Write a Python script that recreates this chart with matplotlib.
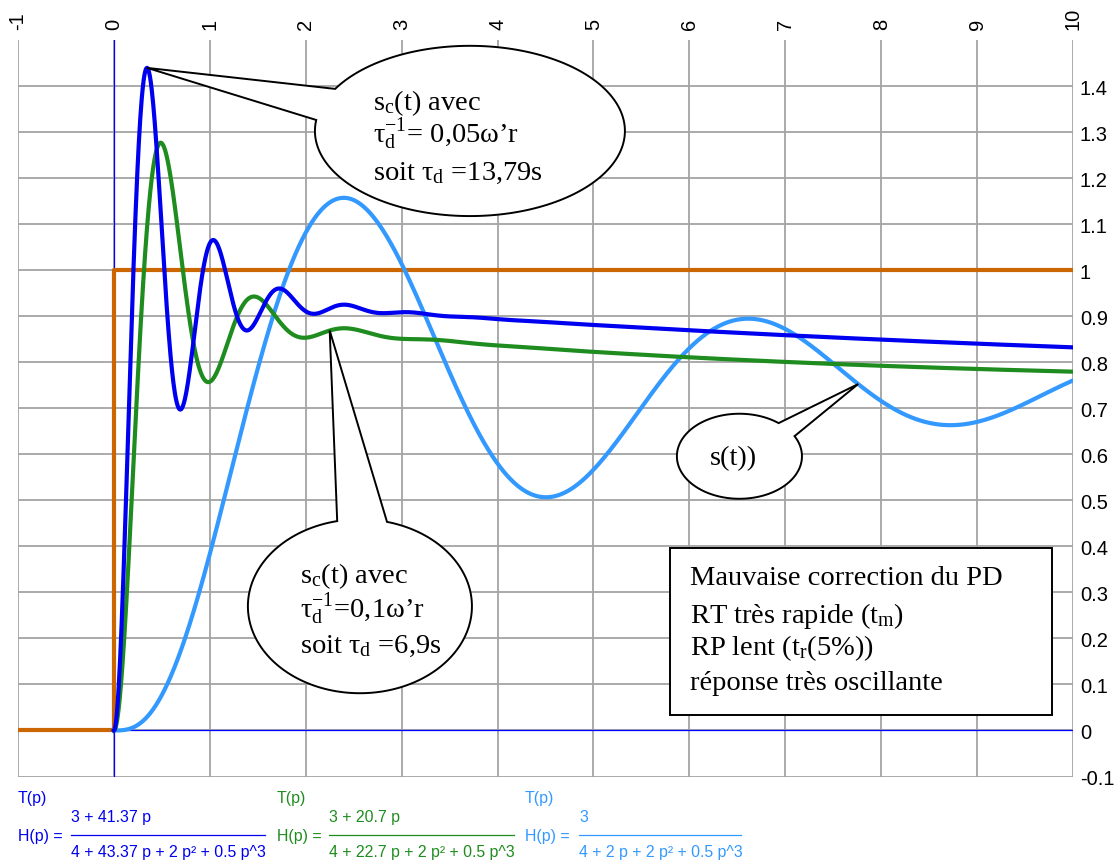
import numpy as np
import matplotlib
matplotlib.use("Agg")
import matplotlib.pyplot as plt
from matplotlib.patches import Polygon, Rectangle
from matplotlib.lines import Line2D

plt.rcParams['mathtext.fontset'] = 'custom'
plt.rcParams['mathtext.rm'] = 'Liberation Serif'
plt.rcParams['mathtext.it'] = 'Liberation Serif:italic'

# Transfer functions (coefficients in ascending powers of p)
num_fast = [3, 41.37]
den_fast = [4, 43.37, 2, 0.5]
num_mid = [3, 20.7]
den_mid = [4, 22.7, 2, 0.5]
num_open = [3]
den_open = [4, 2, 2, 0.5]

# Unit step input
step_t = [-1, 0, 0, 10]
step_y = [0, 0, 1, 1]

x_ticks = [-1, 0, 1, 2, 3, 4, 5, 6, 7, 8, 9, 10]
y_ticks = [-0.1, 0, 0.1, 0.2, 0.3, 0.4, 0.5, 0.6, 0.7, 0.8, 0.9, 1, 1.1, 1.2, 1.3, 1.4]
y_labels = ['-0.1', '0', '0.1', '0.2', '0.3', '0.4', '0.5', '0.6', '0.7', '0.8',
            '0.9', '1', '1.1', '1.2', '1.3', '1.4']

C_FAST = '#0000f0'
C_MID = '#1e8c1e'
C_OPEN = '#3399ff'
C_STEP = '#cc6600'


def step_response(num, den, t):
    # state space in companion form, step answer x = A^-1 (e^At - I) B
    a = np.array(den, float) / den[-1]
    n = len(a) - 1
    b = np.zeros(n)
    b[:len(num)] = np.array(num, float) / den[-1]
    A = np.zeros((n, n))
    A[:-1, 1:] = np.eye(n - 1)
    A[-1, :] = -a[:n]
    B = np.zeros(n)
    B[-1] = 1.0
    lam, V = np.linalg.eig(A)
    w = np.linalg.solve(V, B)
    out = []
    for tk in t:
        g = (np.exp(lam * tk) - 1.0) / lam
        out.append(np.real(b @ (V @ (g * w))))
    return np.array(out)


t = np.linspace(0, 10, 2001)
y_fast = step_response(num_fast, den_fast, t)
y_mid = step_response(num_mid, den_mid, t)
y_open = step_response(num_open, den_open, t)

fig = plt.figure(figsize=(11.18, 8.62), dpi=100)
ax = fig.add_axes([18 / 1118, 84.5 / 862, 1055 / 1118, 736.2 / 862])
ax.set_xlim(-1, 10)
ax.set_ylim(-0.1, 1.5)

ax.set_xticks(x_ticks)
ax.set_xticklabels([str(v) for v in x_ticks])
ax.set_yticks(y_ticks)
ax.set_yticklabels(y_labels)
ax.xaxis.tick_top()
ax.yaxis.tick_right()
ax.tick_params(axis='x', length=0, pad=8, labelrotation=90, labelsize=14.5)
ax.tick_params(axis='y', length=0, pad=5, labelsize=14.5)
for lab in ax.get_xticklabels() + ax.get_yticklabels():
    lab.set_fontfamily('Liberation Sans')
for s in ax.spines.values():
    s.set_visible(False)
ax.grid(True, color='#a4a4a4', lw=1.3, zorder=0)
ax.set_axisbelow(True)

# axes through the origin
ax.axhline(0, color='#0000ff', lw=0.9, zorder=1)
ax.axvline(0, color='#0000ff', lw=0.9, zorder=1)

ax.plot(step_t, step_y, color=C_STEP, lw=3.0, zorder=3)
ax.plot(t, y_open, color=C_OPEN, lw=3.0, zorder=4)
ax.plot(t, y_mid, color=C_MID, lw=3.0, zorder=5)
ax.plot(t, y_fast, color=C_FAST, lw=3.0, zorder=6)


def bubble(cx, cy, a, b, th1, th2, tip):
    # ellipse with a pointer, outline follows the long arc between the two bases
    span = (th2 - th1) % 360
    end = th1 - (360 - span) if span < 180 else th1 + span
    th = np.radians(np.linspace(th1, end, 200))
    pts = [tip] + list(zip(cx + a * np.cos(th), cy + b * np.sin(th)))
    ax.add_patch(Polygon(pts, closed=True, facecolor='white', edgecolor='black',
                         lw=1.4, zorder=8, clip_on=False))


serif = dict(fontfamily='Liberation Serif', fontsize=20.5, zorder=9)

# bubble for the fast corrected response
i_pk = np.argmax(y_fast)
bubble(3.712, 1.303, 1.616, 0.185, 150.4, 172.6, (t[i_pk], y_fast[i_pk]))
ax.text(2.70, 1.351, r"s$_\mathrm{c}$(t) avec", **serif)
ax.text(2.70, 1.279, r"τ$_\mathrm{d}^{\mathrm{-1}}$= 0,05ω’r", **serif)
ax.text(2.70, 1.199, r"soit τ$_\mathrm{d}$ =13,79s", **serif)

# bubble for the second corrected response
i_b = np.argmin(np.abs(t - 2.25))
bubble(2.565, 0.270, 1.168, 0.189, 101.7, 76.0, (t[i_b], y_mid[i_b]))
ax.text(1.94, 0.323, r"s$_\mathrm{c}$(t) avec", **serif)
ax.text(1.94, 0.247, r"τ$_\mathrm{d}^{\mathrm{-1}}$=0,1ω’r", **serif)
ax.text(1.94, 0.171, r"soit τ$_\mathrm{d}$ =6,9s", **serif)

# bubble for the uncorrected response
i_s = np.argmin(np.abs(t - 7.76))
bubble(6.522, 0.596, 0.652, 0.0924, 51.2, 28.2, (t[i_s], y_open[i_s]))
ax.text(6.455, 0.579, "s(t))", ha='center', **serif)

# comment box
ax.add_patch(Rectangle((5.80, 0.0337), 3.98, 0.363, facecolor='white',
                       edgecolor='black', lw=1.4, zorder=8))
ax.text(6.006, 0.318, "Mauvaise correction du PD", **serif)
ax.text(6.006, 0.236, r"RT très rapide (t$_\mathrm{m}$)", **serif)
ax.text(6.006, 0.166, r"RP lent (t$_\mathrm{r}$(5%))", **serif)
ax.text(6.006, 0.090, "réponse très oscillante", **serif)

# transfer functions under the chart
W, H = 1118.0, 862.0
formulas = [
    (18, 71, 265, C_FAST, "3 + 41.37 p", "4 + 43.37 p + 2 p² + 0.5 p^3"),
    (277, 329, 514, C_MID, "3 + 20.7 p", "4 + 22.7 p + 2 p² + 0.5 p^3"),
    (525, 579, 741, C_OPEN, "3", "4 + 2 p + 2 p² + 0.5 p^3"),
]
sans = dict(fontfamily='Liberation Sans', fontsize=11.4, va='center')
for x0, x1, x2, col, top, bot in formulas:
    fig.text(x0 / W, 1 - 799 / H, "T(p)", color=col, **sans)
    fig.text(x0 / W, 1 - 837 / H, "H(p) =", color=col, **sans)
    fig.text(x1 / W, 1 - 818 / H, top, color=col, **sans)
    fig.text(x1 / W, 1 - 853 / H, bot, color=col, **sans)
    fig.add_artist(Line2D([x1 / W, x2 / W], [1 - 836 / H, 1 - 836 / H],
                          color=col, lw=0.9))

fig.savefig("out.png", dpi=100)
